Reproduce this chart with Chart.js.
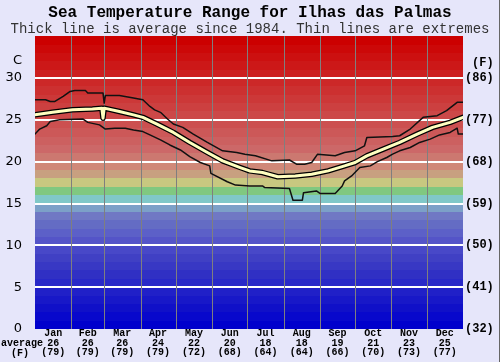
<!DOCTYPE html>
<html>
<head>
<meta charset="utf-8">
<script src="https://cdn.jsdelivr.net/npm/chart.js@4"></script>
<style>
html, body { margin: 0; padding: 0; background: #e6e6fa; }
#wrap { width: 500px; height: 362px; }
</style>
</head>
<body>
<div id="wrap"><canvas id="chart-sea"></canvas></div>
<script>
var months = ["Jan", "Feb", "Mar", "Apr", "May", "Jun", "Jul", "Aug", "Sep", "Oct", "Nov", "Dec"];
var monthDays = [31, 28, 31, 30, 31, 30, 31, 31, 30, 31, 30, 31];
var monthAvgC = [26, 26, 26, 24, 22, 20, 18, 18, 19, 21, 23, 25];
var monthAvgF = [79, 79, 79, 79, 72, 68, 64, 64, 66, 70, 73, 77];
var fLabels = ["(32)", "(41)", "(50)", "(59)", "(68)", "(77)", "(86)", ""];

// day of year / temperature in C
var avgDays  = [0, 15, 32, 49, 57, 58, 59, 72, 84, 92, 104, 118, 132, 147, 160, 175, 183, 194, 207, 222, 236, 250, 264, 273, 283, 297, 311, 326, 339, 354, 365];
var avgTemps = [25.6, 25.9, 26.2, 26.3, 26.4, 25.2, 26.4, 26.0, 25.6, 25.3, 24.5, 23.5, 22.3, 21.1, 20.1, 19.3, 18.9, 18.7, 18.2, 18.3, 18.5, 18.9, 19.5, 19.9, 20.7, 21.5, 22.3, 23.3, 24.1, 24.7, 25.3];

var maxDays  = [0, 9, 13, 17, 24, 30, 34, 43, 45, 58, 59, 60, 72, 84, 92, 98, 102, 107, 113, 118, 126, 135, 147, 160, 172, 179, 188, 202, 217, 223, 230, 236, 241, 256, 264, 273, 281, 283, 305, 311, 320, 331, 343, 351, 360, 365];
var maxTemps = [27.4, 27.4, 27.2, 27.2, 27.8, 28.4, 28.5, 28.5, 28.2, 28.2, 27.0, 27.9, 27.9, 27.6, 27.4, 26.6, 26.2, 25.9, 25.1, 24.5, 24.1, 23.3, 22.3, 21.3, 21.1, 20.9, 20.7, 20.1, 20.2, 19.7, 19.7, 19.9, 20.9, 20.7, 21.1, 21.3, 21.9, 22.9, 23.0, 23.1, 23.9, 25.3, 25.5, 26.1, 27.1, 27.1];

var minDays  = [0, 4, 10, 13, 21, 41, 45, 55, 60, 68, 77, 84, 92, 98, 107, 115, 124, 132, 141, 149, 150, 164, 171, 183, 194, 196, 217, 220, 228, 229, 240, 243, 256, 258, 262, 264, 270, 277, 286, 292, 300, 305, 311, 320, 328, 337, 345, 354, 360, 361, 365];
var minTemps = [23.3, 23.9, 24.3, 24.8, 25.0, 25.1, 24.7, 24.4, 23.9, 24.0, 24.0, 23.8, 23.6, 23.2, 22.6, 22.0, 21.4, 20.6, 19.9, 19.5, 18.6, 17.6, 17.2, 17.1, 17.1, 16.9, 16.8, 15.4, 15.4, 16.3, 16.5, 16.2, 16.2, 16.5, 17.1, 17.7, 18.3, 19.3, 19.5, 20.0, 20.5, 20.9, 21.3, 21.7, 22.3, 22.7, 23.2, 23.5, 24.0, 23.3, 23.3];

function toPoints(xs, ys) {
    return xs.map(function(x, i) { return { x: x, y: ys[i] }; });
}

var monthStart = [];
var monthMid = [];
var acc = 0;
monthDays.forEach(function(d) {
    monthStart.push(acc);
    monthMid.push(acc + d / 2);
    acc += d;
});

var bandColors = [
    "rgb(0,0,204)", "rgb(8,8,204)", "rgb(16,16,200)", "rgb(24,24,200)", "rgb(32,32,200)",
    "rgb(40,40,200)", "rgb(48,48,196)", "rgb(56,56,196)", "rgb(64,64,196)", "rgb(72,72,200)",
    "rgb(84,84,200)", "rgb(92,96,200)", "rgb(100,108,196)", "rgb(112,120,196)", "rgb(124,160,200)",
    "rgb(128,200,200)", "rgb(128,200,128)", "rgb(200,200,128)", "rgb(200,160,128)", "rgb(208,136,120)",
    "rgb(204,120,112)"
];
for (var g = 104; g >= 0; g -= 8) bandColors.push("rgb(204," + g + "," + g + ")");

var seaPlugin = {
    id: 'seaBackground',
    beforeDraw: function(chart) {
        var ctx = chart.ctx, a = chart.chartArea, y = chart.scales.y;
        ctx.save();
        ctx.fillStyle = "#e6e6fa";
        ctx.fillRect(0, 0, chart.width, chart.height);
        for (var t = 0; t < 35; t++) {
            var top = Math.round(y.getPixelForValue(t + 1));
            var bot = Math.round(y.getPixelForValue(t));
            ctx.fillStyle = bandColors[t];
            ctx.fillRect(a.left, top, a.right - a.left, bot - top);
        }
        ctx.restore();
    },
    beforeDatasetsDraw: function(chart) {
        var ctx = chart.ctx, a = chart.chartArea, x = chart.scales.x;
        ctx.save();
        ctx.strokeStyle = "#7f7f7f";
        ctx.lineWidth = 1;
        for (var i = 1; i < monthStart.length; i++) {
            var px = Math.round(x.getPixelForValue(monthStart[i])) + 0.5;
            ctx.beginPath();
            ctx.moveTo(px, a.top);
            ctx.lineTo(px, a.bottom);
            ctx.stroke();
        }
        ctx.restore();
    },
    afterDraw: function(chart) {
        var ctx = chart.ctx, a = chart.chartArea;
        ctx.save();
        ctx.fillStyle = "#000";
        ctx.textBaseline = "middle";
        ctx.font = "13px 'DejaVu Sans'";
        ctx.textAlign = "right";
        ctx.fillText("C", 22, 61);
        ctx.font = "bold 12px 'Liberation Mono'";
        ctx.textAlign = "left";
        ctx.fillText("(F)", a.right + 9, 63);
        ctx.font = "bold 10px 'Liberation Mono'";
        ctx.fillText("average", 1, 343.5);
        ctx.textAlign = "center";
        ctx.fillText("(F)", 20, 353);
        ctx.strokeStyle = "#666";
        ctx.beginPath();
        ctx.moveTo(chart.width - 0.5, 0);
        ctx.lineTo(chart.width - 0.5, chart.height);
        ctx.stroke();
        ctx.restore();
    }
};

var ctx = document.getElementById("chart-sea");
var seaChart = new Chart(ctx, {
    type: 'line',
    data: {
        datasets: [{
            data: toPoints(avgDays, avgTemps),
            borderColor: "#ffffc0",
            borderWidth: 3
        }, {
            data: toPoints(avgDays, avgTemps),
            borderColor: "#000",
            borderWidth: 5.5
        }, {
            data: toPoints(maxDays, maxTemps),
            borderColor: "#111",
            borderWidth: 1.5
        }, {
            data: toPoints(minDays, minTemps),
            borderColor: "#111",
            borderWidth: 1.5
        }]
    },
    plugins: [seaPlugin],
    options: {
        responsive: true,
        maintainAspectRatio: false,
        animation: false,
        layout: { padding: 0 },
        elements: {
            point: { radius: 0 },
            line: { tension: 0, borderJoinStyle: 'round', borderCapStyle: 'round' }
        },
        plugins: {
            legend: { display: false },
            tooltip: { enabled: false },
            title: {
                display: true,
                text: 'Sea Temperature Range for Ilhas das Palmas',
                color: '#000',
                font: { family: 'Liberation Mono', size: 16, weight: 'bold', lineHeight: 1.2 },
                padding: { top: 3, bottom: 0 }
            },
            subtitle: {
                display: true,
                text: 'Thick line is average since 1984. Thin lines are extremes',
                color: '#333',
                font: { family: 'Liberation Mono', size: 14, lineHeight: 1 },
                padding: { top: 0, bottom: 0 }
            }
        },
        scales: {
            x: {
                type: 'linear',
                min: 0,
                max: 365,
                afterBuildTicks: function(scale) {
                    scale.ticks = monthMid.map(function(v) { return { value: v }; });
                },
                afterFit: function(scale) { scale.height = 33; },
                grid: { display: false, drawTicks: false },
                border: { display: false },
                ticks: {
                    autoSkip: false,
                    maxRotation: 0,
                    padding: 0,
                    color: '#000',
                    font: { family: 'Liberation Mono', size: 10, weight: 'bold', lineHeight: '9.5px' },
                    callback: function(value, index) {
                        return [months[index], String(monthAvgC[index]), '(' + monthAvgF[index] + ')'];
                    }
                }
            },
            y: {
                position: 'left',
                min: 0,
                max: 35,
                afterFit: function(scale) { scale.width = 35; },
                grid: {
                    drawTicks: false,
                    lineWidth: 2,
                    color: function(c) {
                        var v = c.tick ? c.tick.value : 0;
                        return (v > 0 && v < 35) ? '#ffffff' : 'rgba(0,0,0,0)';
                    }
                },
                border: { display: false },
                ticks: {
                    stepSize: 5,
                    padding: 13,
                    color: '#000',
                    font: { family: 'DejaVu Sans', size: 13 },
                    callback: function(value) { return value === 35 ? '' : value; }
                }
            },
            yF: {
                position: 'right',
                min: 0,
                max: 35,
                afterFit: function(scale) { scale.width = 37; },
                grid: { display: false, drawTicks: false },
                border: { display: false },
                ticks: {
                    stepSize: 5,
                    padding: 2,
                    color: '#000',
                    font: { family: 'Liberation Mono', size: 12, weight: 'bold' },
                    callback: function(value, index) { return fLabels[index]; }
                }
            }
        }
    }
});
</script>
</body>
</html>
